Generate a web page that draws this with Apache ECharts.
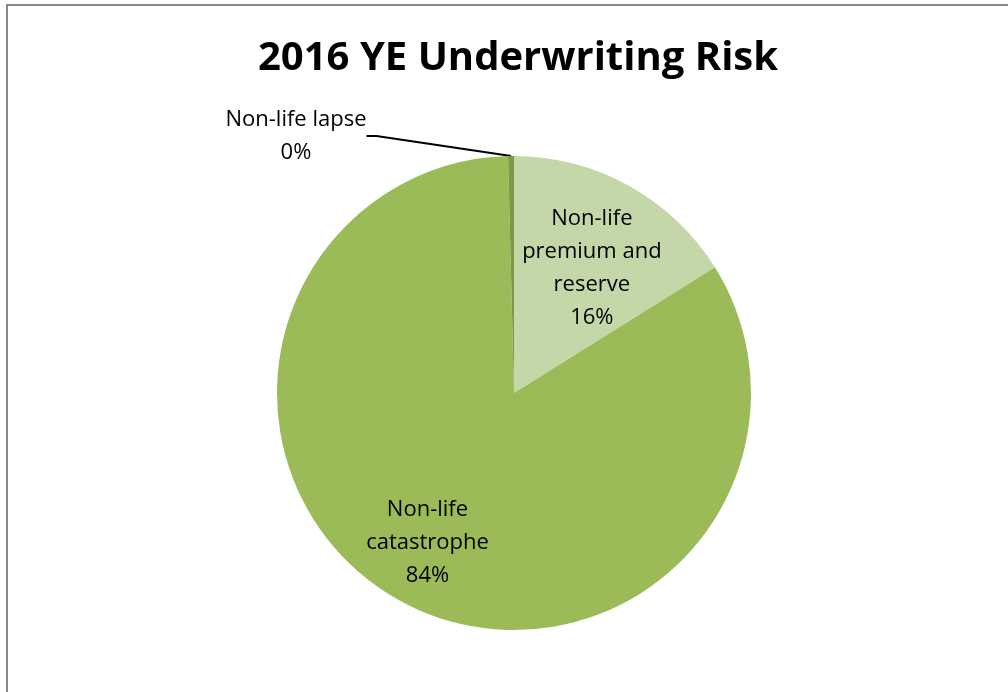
<!DOCTYPE html>
<html>
<head>
<meta charset="utf-8">
<script src="https://cdn.jsdelivr.net/npm/echarts@6/dist/echarts.min.js"></script>
<style>
body { margin: 0; background: #fff; }
#frame { position: absolute; left: 6px; top: 4px; width: 1100px; height: 800px; border: 2px solid #888; }
#main { position: absolute; left: 0; top: 0; width: 1008px; height: 692px; }
</style>
</head>
<body>
<div id="frame"></div>
<div id="main"></div>
<script>
// 饼图数据
var chartTitle = '2016 YE Underwriting Risk';
var categories = ['Non-life\npremium and\nreserve', 'Non-life\ncatastrophe', 'Non-life lapse'];
var values = [16.1, 83.5, 0.4];
var sliceColors = ['#C4D7A9', '#9BBB59', '#7A9A43'];

// 标签微调（文字位置）
var labelShift = [[19, -18], [-29, 43], null];

var myChart = echarts.init(document.getElementById('main'));

var option = {
    animation: false,
    title: {
        text: chartTitle,
        left: 253,
        top: 34,
        textStyle: {
            fontFamily: 'Open Sans',
            fontWeight: 'bold',
            fontSize: 40,
            color: '#000'
        }
    },
    series: [{
        type: 'pie',
        center: [514, 393],
        radius: 237,
        startAngle: 90,
        clockwise: true,
        silent: true,
        label: {
            show: true,
            position: 'inside',
            formatter: function(p) {
                return p.name + '\n' + Math.round(p.value) + '%';
            },
            fontFamily: 'Open Sans',
            fontSize: 22,
            lineHeight: 33,
            color: '#000',
            align: 'center'
        },
        labelLine: { show: false },
        itemStyle: { borderWidth: 0 },
        labelLayout: function(p) {
            var s = labelShift[p.dataIndex];
            if (s) return { dx: s[0], dy: s[1] };
            return { x: 296, y: 136, align: 'center', verticalAlign: 'middle' };
        },
        data: categories.map(function(name, i) {
            var d = { name: name, value: values[i], itemStyle: { color: sliceColors[i] } };
            if (i === 2) {
                d.label = { position: 'outside' };
                d.labelLine = { show: true, length: 10, length2: 10, lineStyle: { color: '#000', width: 2 } };
            }
            return d;
        })
    }]
};

myChart.setOption(option);
</script>
</body>
</html>
